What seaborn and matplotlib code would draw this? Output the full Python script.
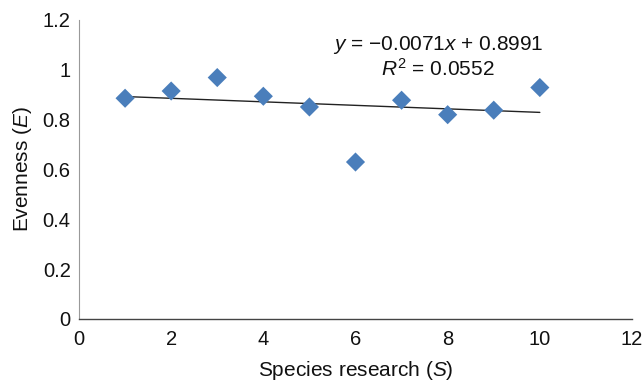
import numpy as np
import pandas as pd
import matplotlib
matplotlib.use("Agg")
import matplotlib.pyplot as plt
import seaborn as sns
from matplotlib.ticker import FuncFormatter, MultipleLocator

species = [1, 2, 3, 4, 5, 6, 7, 8, 9, 10]
evenness = [0.886, 0.915, 0.969, 0.894, 0.851, 0.630, 0.878, 0.820, 0.838, 0.929]
eq_text = "$y$ = \u22120.0071$x$ + 0.8991"
r2_text = "$R^2$ = 0.0552"

sns.set_theme(style="white")
plt.rcParams["font.family"] = ["Liberation Sans", "DejaVu Sans"]
plt.rcParams["mathtext.fontset"] = "custom"
plt.rcParams["mathtext.rm"] = "Liberation Sans"
plt.rcParams["mathtext.it"] = "Liberation Sans:italic"

df = pd.DataFrame({"S": species, "E": evenness})

fig = plt.figure(figsize=(6.43, 3.83), dpi=100)
ax = fig.add_axes([79 / 643, 1 - 319 / 383, 553 / 643, 299 / 383])

# trendline (least squares from data)
coef = np.polyfit(df["S"], df["E"], 1)
xl = np.array([min(species), max(species)], dtype=float)
line_df = pd.DataFrame({"S": xl, "E": np.polyval(coef, xl)})
sns.lineplot(data=line_df, x="S", y="E", ax=ax, color="#222222", lw=1.0, zorder=2)

sns.scatterplot(data=df, x="S", y="E", ax=ax, marker="D", s=95, color="#4a7ebb",
                edgecolor="none", zorder=3)

ax.set_xlim(0, 12)
ax.set_ylim(0, 1.2)
ax.xaxis.set_major_locator(MultipleLocator(2))
ax.yaxis.set_major_locator(MultipleLocator(0.2))
fmt = FuncFormatter(lambda v, p: "%g" % round(v, 2))
ax.xaxis.set_major_formatter(fmt)
ax.yaxis.set_major_formatter(fmt)
ax.tick_params(axis="both", length=0, labelsize=14.5, colors="#111111")
ax.tick_params(axis="x", pad=8)
ax.tick_params(axis="y", pad=6)

for s in ["top", "right"]:
    ax.spines[s].set_visible(False)
ax.spines["left"].set_color("#999999")
ax.spines["left"].set_linewidth(0.8)
ax.spines["bottom"].set_color("#444444")
ax.spines["bottom"].set_linewidth(1.0)

ax.set_xlabel("Species research ($S$)", fontsize=15, color="#111111", labelpad=7)
ax.set_ylabel("Evenness ($E$)", fontsize=15, color="#111111", labelpad=6)

fig.text(438 / 643, 1 - 45 / 383, eq_text, ha="center", va="center", fontsize=15, color="#111111")
fig.text(438 / 643, 1 - 69 / 383, r2_text, ha="center", va="center", fontsize=15, color="#111111")

fig.savefig("out.png", dpi=100)
